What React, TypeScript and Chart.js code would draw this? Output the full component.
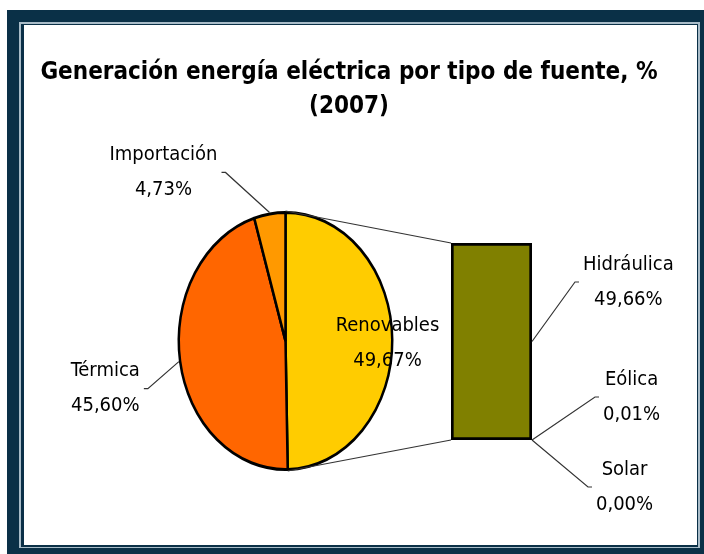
import React, { useEffect, useRef } from "react";
import { Chart, registerables } from "chart.js";

Chart.register(...registerables);

// ---- data ----
const TITLE_LINES = ["Generación energía eléctrica por tipo de fuente, %", "(2007)"];
const SOURCE_LABELS = ["Renovables", "Térmica", "Importación"];
const SOURCE_VALUES = [49.67, 45.6, 4.73];
const RENEWABLE_LABELS = ["Hidráulica", "Eólica", "Solar"];
const RENEWABLE_VALUES = [49.66, 0.01, 0.0];

// ---- styles ----
const NAVY = "#0a3047";
const LIGHT = "#a9bcc8";
const TEXT = "#000000";
const LEADER = "#333333";
const PIE_COLORS = ["#ffcc00", "#ff6600", "#ff9900"];
const BAR_COLOR = "#808000";
const FONT_FAMILY = "'DejaVu Sans Condensed', 'DejaVu Sans', sans-serif";
const LABEL_FONT = `20px ${FONT_FAMILY}`;
const TITLE_FONT = `bold 24px ${FONT_FAMILY}`;
const Y_STRETCH = 130 / 108;
const PIE_BORDER = 2.5;
const LINE_GAP = 35;

const fmt = (v: number) => v.toFixed(2).replace(".", ",") + "%";

function drawBlock(ctx: CanvasRenderingContext2D, lines: string[], cx: number, cy: number) {
  ctx.font = LABEL_FONT;
  ctx.fillStyle = TEXT;
  ctx.textAlign = "center";
  ctx.textBaseline = "middle";
  ctx.fillText(lines[0], cx, cy - LINE_GAP / 2);
  ctx.fillText(lines[1], cx, cy + LINE_GAP / 2);
}

function blockWidth(ctx: CanvasRenderingContext2D, lines: string[]) {
  ctx.font = LABEL_FONT;
  return Math.max(...lines.map((l) => ctx.measureText(l).width));
}

function polyline(ctx: CanvasRenderingContext2D, pts: { x: number; y: number }[]) {
  ctx.save();
  ctx.strokeStyle = LEADER;
  ctx.lineWidth = 1.2;
  ctx.beginPath();
  pts.forEach((p, i) => (i === 0 ? ctx.moveTo(p.x, p.y) : ctx.lineTo(p.x, p.y)));
  ctx.stroke();
  ctx.restore();
}

function labeled(
  ctx: CanvasRenderingContext2D,
  start: { x: number; y: number },
  dx: number,
  dy: number,
  side: number,
  lines: string[]
) {
  const elbow = { x: start.x + dx, y: start.y + dy };
  const end = { x: elbow.x + side * 4, y: elbow.y };
  polyline(ctx, [start, elbow, end]);
  const w = blockWidth(ctx, lines);
  drawBlock(ctx, lines, end.x + side * (4 + w / 2), end.y);
}

export default function App() {
  const pieRef = useRef<HTMLCanvasElement>(null);
  const barRef = useRef<HTMLCanvasElement>(null);

  useEffect(() => {
    if (!pieRef.current || !barRef.current) return;

    const ellipsePlugin = {
      id: "ellipse",
      beforeDatasetsDraw(chart: any) {
        const a = chart.getDatasetMeta(0).data[0];
        const ctx = chart.ctx;
        ctx.save();
        ctx.translate(a.x, a.y);
        ctx.scale(1, Y_STRETCH);
        ctx.translate(-a.x, -a.y);
      },
      afterDatasetsDraw(chart: any) {
        chart.ctx.restore();
      },
    };

    const pie = new Chart(pieRef.current, {
      type: "pie",
      data: {
        labels: SOURCE_LABELS,
        datasets: [
          {
            data: SOURCE_VALUES,
            backgroundColor: PIE_COLORS,
            borderColor: "#000000",
            borderWidth: PIE_BORDER,
            clip: false,
          } as any,
        ],
      },
      options: {
        responsive: false,
        animation: false,
        events: [],
        layout: { padding: { left: 177, right: 310, top: 233, bottom: 105 } },
        plugins: { legend: { display: false }, tooltip: { enabled: false }, title: { display: false } },
      },
      plugins: [ellipsePlugin],
    });

    const total = RENEWABLE_VALUES.reduce((s, v) => s + v, 0);

    const annotations = {
      id: "annotations",
      afterDraw(chart: any) {
        const ctx: CanvasRenderingContext2D = chart.ctx;
        // title
        ctx.save();
        ctx.font = TITLE_FONT;
        ctx.fillStyle = TEXT;
        ctx.textAlign = "center";
        ctx.textBaseline = "middle";
        ctx.fillText(TITLE_LINES[0], 349, 73);
        ctx.fillText(TITLE_LINES[1], 349, 107);
        ctx.restore();

        // pie geometry
        const arcs: any[] = pie.getDatasetMeta(0).data as any[];
        const R = arcs[0].outerRadius + PIE_BORDER / 2;
        const edge = (a: any, ang: number) => ({
          x: a.x + R * Math.cos(ang),
          y: a.y + R * Y_STRETCH * Math.sin(ang),
        });
        const mid = (a: any) => (a.startAngle + a.endAngle) / 2;

        // bar geometry
        const ys = chart.scales.y;
        const hb: any = chart.getDatasetMeta(0).data[0];
        const barLeft = hb.x - hb.width / 2;
        const barRight = hb.x + hb.width / 2;
        const barTop = ys.getPixelForValue(0);
        const barBottom = ys.getPixelForValue(total);

        // connectors pie -> bar
        const ren = arcs[0];
        polyline(ctx, [edge(ren, ren.startAngle), { x: barLeft, y: barTop }]);
        polyline(ctx, [edge(ren, ren.endAngle), { x: barLeft, y: barBottom }]);

        // Renovables (inside)
        const rp = edge(ren, mid(ren));
        drawBlock(ctx, [SOURCE_LABELS[0], fmt(SOURCE_VALUES[0])], rp.x - 6, rp.y + 3.5);
        // Térmica
        labeled(ctx, edge(arcs[1], mid(arcs[1])), -31, 27, -1, [SOURCE_LABELS[1], fmt(SOURCE_VALUES[1])]);
        // Importación
        labeled(ctx, edge(arcs[2], mid(arcs[2])), -44, -40, -1, [SOURCE_LABELS[2], fmt(SOURCE_VALUES[2])]);

        // bar labels
        const segMid = (i: number) => {
          const e: any = chart.getDatasetMeta(i).data[0];
          return { x: barRight, y: (e.y + e.base) / 2 };
        };
        const offs = [
          [43, -59.5],
          [63, -43],
          [56, 47],
        ];
        RENEWABLE_LABELS.forEach((l, i) => {
          labeled(ctx, segMid(i), offs[i][0], offs[i][1], 1, [l, fmt(RENEWABLE_VALUES[i])]);
        });
      },
    };

    const bar = new Chart(barRef.current, {
      type: "bar",
      data: {
        labels: [""],
        datasets: RENEWABLE_LABELS.map((l, i) => ({
          label: l,
          data: [RENEWABLE_VALUES[i]],
          backgroundColor: BAR_COLOR,
          borderColor: "#000000",
          borderWidth: i === 0 ? 3 : 0,
          borderSkipped: false,
          categoryPercentage: 1,
          barPercentage: 1,
        })) as any,
      },
      options: {
        responsive: false,
        animation: false,
        events: [],
        layout: { padding: { left: 451, right: 172, top: 243, bottom: 114 } },
        scales: {
          x: { display: false, stacked: true },
          y: { display: false, stacked: true, reverse: true, min: 0, max: total },
        },
        plugins: { legend: { display: false }, tooltip: { enabled: false }, title: { display: false } },
      },
      plugins: [annotations],
    });

    return () => {
      bar.destroy();
      pie.destroy();
    };
  }, []);

  return (
    <div style={{ position: "fixed", left: 0, top: 0, width: 704, height: 554, background: "#fff", overflow: "hidden" }}>
      <div style={{ position: "absolute", left: 7, top: 10, width: 697, height: 544, background: NAVY }} />
      <div style={{ position: "absolute", left: 19, top: 22, width: 681, height: 526, background: LIGHT }} />
      <div style={{ position: "absolute", left: 21, top: 24, width: 677, height: 523, background: NAVY }} />
      <div style={{ position: "absolute", left: 24, top: 25, width: 673, height: 520, background: "#fff" }} />
      <canvas ref={pieRef} width={704} height={554} style={{ position: "absolute", left: 0, top: 0 }} />
      <canvas ref={barRef} width={704} height={554} style={{ position: "absolute", left: 0, top: 0 }} />
    </div>
  );
}
